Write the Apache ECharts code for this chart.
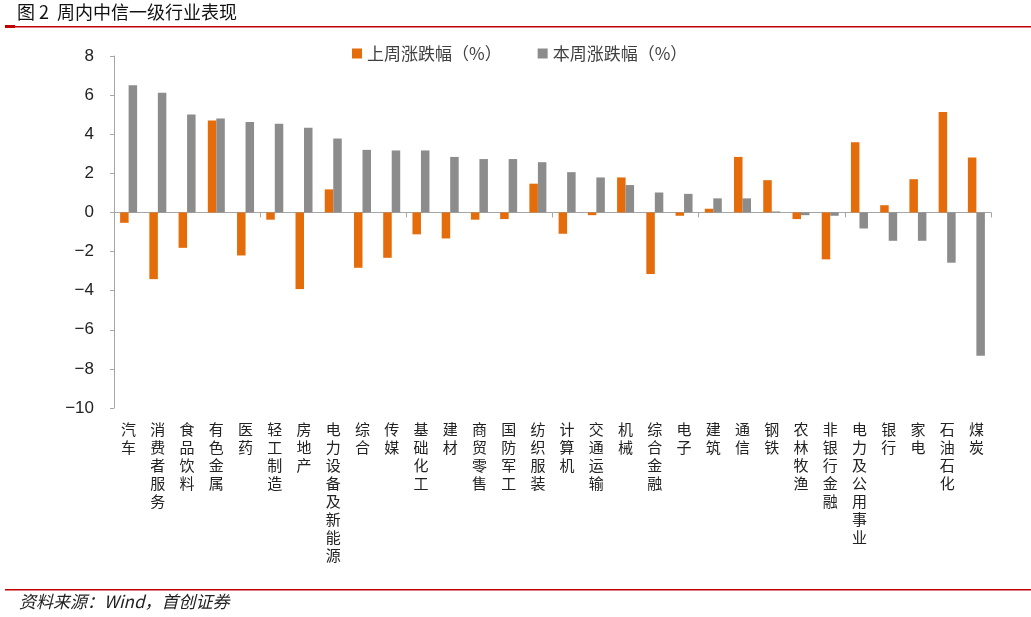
<!DOCTYPE html>
<html>
<head>
<meta charset="utf-8">
<title>周内中信一级行业表现</title>
<script src="https://cdn.jsdelivr.net/npm/echarts@6/dist/echarts.min.js"></script>
<style>
  html, body { margin: 0; padding: 0; background: #fff; }
  #chart { width: 1031px; height: 617px; }
</style>
</head>
<body>
<div id="chart"></div>
<script>
// 行业名称
const categories = ['汽车', '消费者服务', '食品饮料', '有色金属', '医药', '轻工制造', '房地产', '电力设备及新能源',
  '综合', '传媒', '基础化工', '建材', '商贸零售', '国防军工', '纺织服装', '计算机', '交通运输', '机械',
  '综合金融', '电子', '建筑', '通信', '钢铁', '农林牧渔', '非银行金融', '电力及公用事业', '银行', '家电',
  '石油石化', '煤炭']

// 上周涨跌幅（%）
const lastWeek = [-0.53, -3.41, -1.81, 4.70, -2.20, -0.37, -3.92, 1.18, -2.83, -2.32, -1.12, -1.33, -0.37,
  -0.34, 1.47, -1.09, -0.14, 1.79, -3.15, -0.17, 0.19, 2.84, 1.65, -0.34, -2.40, 3.59, 0.37, 1.70, 5.14, 2.81]

// 本周涨跌幅（%）
const thisWeek = [6.51, 6.12, 5.01, 4.80, 4.62, 4.53, 4.33, 3.78, 3.20, 3.17, 3.17, 2.84, 2.73, 2.73, 2.57,
  2.06, 1.79, 1.40, 1.02, 0.95, 0.72, 0.72, 0.05, -0.14, -0.17, -0.82, -1.45, -1.45, -2.57, -7.33]

const seriesNames = ['上周涨跌幅（%）', '本周涨跌幅（%）']
const yTicks = { min: -10, max: 8, interval: 2 }

const cjk = '"Noto Sans CJK SC", "Noto Sans", sans-serif'
const chart = echarts.init(document.getElementById('chart'))

chart.setOption({
  animation: false,
  backgroundColor: '#fff',
  textStyle: { fontFamily: cjk },
  graphic: [
    { type: 'text', left: 17, top: 3, style: { text: '图 2  周内中信一级行业表现', font: '18px ' + cjk, fill: '#111' } },
    { type: 'rect', shape: { x: 5, y: 26, width: 1026, height: 1.5 }, style: { fill: '#C00000' } },
    { type: 'rect', shape: { x: 5, y: 25, width: 10, height: 3 }, style: { fill: '#C00000' } },
    { type: 'rect', shape: { x: 5, y: 589, width: 1026, height: 1.5 }, style: { fill: '#C00000' } },
    { type: 'text', left: 19, top: 593, style: { text: '资料来源：Wind，首创证券', font: 'italic 17px ' + cjk, fill: '#222' } }
  ],
  legend: {
    top: 40,
    left: 347,
    itemWidth: 10,
    itemHeight: 10,
    itemGap: 36,
    icon: 'rect',
    textStyle: { fontSize: 17, color: '#404040', fontFamily: cjk },
    data: seriesNames
  },
  grid: { left: 114, right: 40, top: 56, bottom: 209 },
  xAxis: [
    {
      type: 'category',
      data: categories,
      axisLine: { onZero: true, lineStyle: { color: '#a6a6a6', width: 1 } },
      axisTick: { show: true, length: 5, lineStyle: { color: '#a6a6a6' } },
      axisLabel: { show: false },
      splitLine: { show: false }
    },
    {
      type: 'category',
      data: categories,
      position: 'bottom',
      axisLine: { show: false, onZero: false },
      axisTick: { show: false },
      axisLabel: {
        interval: 0,
        margin: 12,
        fontSize: 15,
        lineHeight: 18,
        color: '#222',
        verticalAlign: 'top',
        formatter: v => v.split('').join('\n')
      }
    }
  ],
  yAxis: {
    type: 'value',
    min: yTicks.min,
    max: yTicks.max,
    interval: yTicks.interval,
    axisLine: { show: true, lineStyle: { color: '#a6a6a6' } },
    axisTick: { show: true, length: 4, lineStyle: { color: '#a6a6a6' } },
    axisLabel: {
      margin: 20,
      fontSize: 17,
      color: '#222',
      fontFamily: '"Liberation Sans", Arial, sans-serif',
      formatter: v => String(v).replace('-', '−')
    },
    splitLine: { show: false }
  },
  series: [
    {
      name: seriesNames[0],
      type: 'bar',
      xAxisIndex: 0,
      data: lastWeek,
      barWidth: 8.5,
      barGap: '0%',
      itemStyle: { color: '#E46C0A' }
    },
    {
      name: seriesNames[1],
      type: 'bar',
      xAxisIndex: 0,
      data: thisWeek,
      barWidth: 8.5,
      barGap: '0%',
      itemStyle: { color: '#8C8C8C' }
    }
  ]
})
</script>
</body>
</html>
